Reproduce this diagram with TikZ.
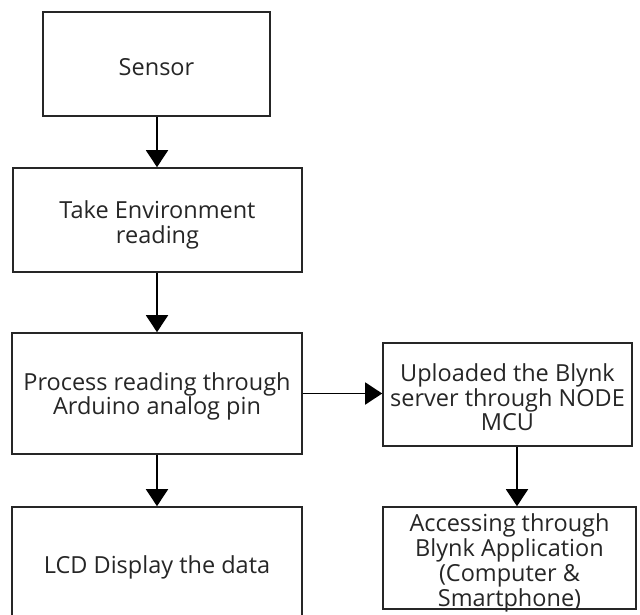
\documentclass[tikz,border=0pt]{standalone}
\usepackage{fontspec}
\setmainfont{Open Sans}
\usetikzlibrary{arrows.meta,calc}
\begin{document}
\begin{tikzpicture}[x=1pt,y=-1pt,
  box/.style={draw=black!85,line width=1.6pt,inner sep=0pt},
  txt/.style={inner sep=0pt,text=black!85,font=\fontsize{23.5}{24.5}\selectfont,align=center},
  arr/.style={line width=1.6pt,draw=black,-{Triangle[length=17pt,width=22pt]}}]
\useasboundingbox (0,0) rectangle (640,614);
\clip (0,0) rectangle (640,614);
\fill[white] (0,0) rectangle (640,614);
\node[box,minimum width=227pt,minimum height=104pt] (sen) at (156.5,64) {};
\node[box,minimum width=289pt,minimum height=104pt] (take) at (157.5,220) {};
\node[box,minimum width=290pt,minimum height=121pt] (proc) at (157,393.5) {};
\node[box,minimum width=290pt,minimum height=116pt] (lcd) at (157,565) {};
\node[box,minimum width=249pt,minimum height=103pt] (up) at (507.5,394.5) {};
\node[box,minimum width=253pt,minimum height=102pt] (acc) at (509.5,558) {};
\node[txt] (tsen) at ([yshift=-3pt]sen.center) {Sensor};
\node[txt] (ttake) at ([yshift=-5pt]take.center) {Take Environment\\reading};
\node[txt] (tproc) at ([yshift=-3pt]proc.center) {Process reading through\\Arduino analog pin};
\node[txt] (tlcd) at ([yshift=-2pt]lcd.center) {LCD Display the data};
\node[txt] (tup) at ([yshift=-3pt]up.center) {Uploaded the Blynk\\server through NODE\\MCU};
\node[txt,font=\fontsize{23.5}{25}\selectfont] (tacc) at ([yshift=-5pt]acc.center) {Accessing through\\Blynk Application\\(Computer \&\\Smartphone)};
\draw[arr] (sen.south -| 157,0) -- (take.north -| 157,0);
\draw[arr] (take.south -| 157,0) -- (proc.north -| 157,0);
\draw[arr] (proc.south -| 157,0) -- (lcd.north -| 157,0);
\draw[arr] (proc.east) -- (proc.east -| up.west);
\draw[arr] (up.south -| 517,0) -- (acc.north -| 517,0);
\end{tikzpicture}
\end{document}
